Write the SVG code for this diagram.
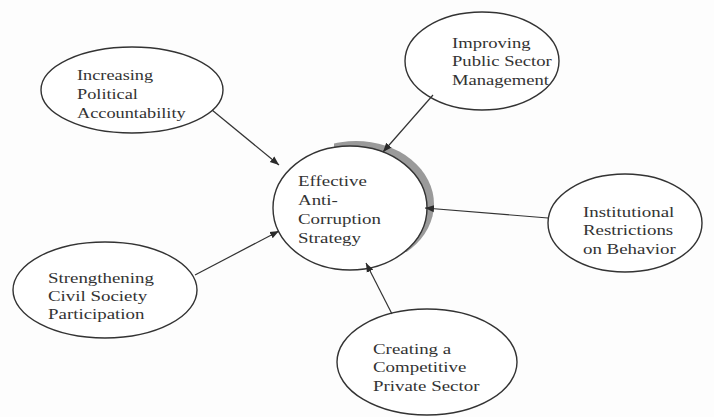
<svg xmlns="http://www.w3.org/2000/svg" width="714" height="417" viewBox="0 0 714 417">
  <defs>
    <marker id="arrow" viewBox="0 0 10 10" refX="10" refY="5" markerWidth="9" markerHeight="9" markerUnits="userSpaceOnUse" orient="auto">
      <path d="M0,1 L10,5 L0,9 Z" fill="#2a2a2a"/>
    </marker>
    <!-- keeps the grey rim to the upper-right side of the centre circle -->
    <clipPath id="rim-clip">
      <rect x="334" y="130" width="112" height="122"/>
    </clipPath>
  </defs>
  <style>
    .node ellipse { fill: #ffffff; stroke: #333333; stroke-width: 1.4; }
    .node text { font-family: "Liberation Serif", "Times New Roman", serif; font-size: 15.5px; fill: #333333; }
    .edge { stroke: #333333; stroke-width: 1.2; fill: none; marker-end: url(#arrow); }
  </style>
  <rect width="714" height="417" fill="#fdfdfd"/>

  <!-- centre node with shaded rim on the upper right -->
  <g id="node-strategy" class="node">
    <ellipse cx="356" cy="204" rx="78" ry="63" clip-path="url(#rim-clip)" style="fill:#9a9a9a;stroke:none"/>
    <ellipse cx="350" cy="208" rx="77" ry="62"/>
    <text transform="translate(298,186) scale(1.22,1)">Effective</text>
    <text transform="translate(298,205) scale(1.22,1)">Anti-</text>
    <text transform="translate(298,224) scale(1.22,1)">Corruption</text>
    <text transform="translate(298,243) scale(1.22,1)">Strategy</text>
  </g>

  <g id="node-political" class="node">
    <ellipse cx="132" cy="90" rx="91" ry="43"/>
    <text transform="translate(77,80) scale(1.18,1)">Increasing</text>
    <text transform="translate(77,99) scale(1.18,1)">Political</text>
    <text transform="translate(77,118) scale(1.18,1)">Accountability</text>
  </g>

  <g id="node-public" class="node">
    <ellipse cx="482" cy="61" rx="77" ry="49"/>
    <text transform="translate(452,48) scale(1.2,1)">Improving</text>
    <text transform="translate(452,66) scale(1.2,1)">Public Sector</text>
    <text transform="translate(452,85) scale(1.2,1)">Management</text>
  </g>

  <g id="node-institutional" class="node">
    <ellipse cx="625" cy="223" rx="77" ry="49"/>
    <text transform="translate(583,217) scale(1.22,1)">Institutional</text>
    <text transform="translate(583,235) scale(1.22,1)">Restrictions</text>
    <text transform="translate(583,254) scale(1.22,1)">on Behavior</text>
  </g>

  <g id="node-civil" class="node">
    <ellipse cx="105" cy="290" rx="92" ry="48"/>
    <text transform="translate(48,283) scale(1.22,1)">Strengthening</text>
    <text transform="translate(48,301) scale(1.22,1)">Civil Society</text>
    <text transform="translate(48,319) scale(1.22,1)">Participation</text>
  </g>

  <g id="node-private" class="node">
    <ellipse cx="427" cy="362" rx="90" ry="53"/>
    <text transform="translate(373,354) scale(1.22,1)">Creating a</text>
    <text transform="translate(373,372) scale(1.22,1)">Competitive</text>
    <text transform="translate(373,391) scale(1.22,1)">Private Sector</text>
  </g>

  <g id="connectors">
    <line class="edge" x1="212" y1="110" x2="279" y2="165"/>
    <line class="edge" x1="433" y1="95" x2="383" y2="152"/>
    <line class="edge" x1="548" y1="218" x2="425" y2="208"/>
    <line class="edge" x1="195" y1="275" x2="279" y2="231"/>
    <line class="edge" x1="392" y1="314" x2="366" y2="263"/>
  </g>
</svg>
